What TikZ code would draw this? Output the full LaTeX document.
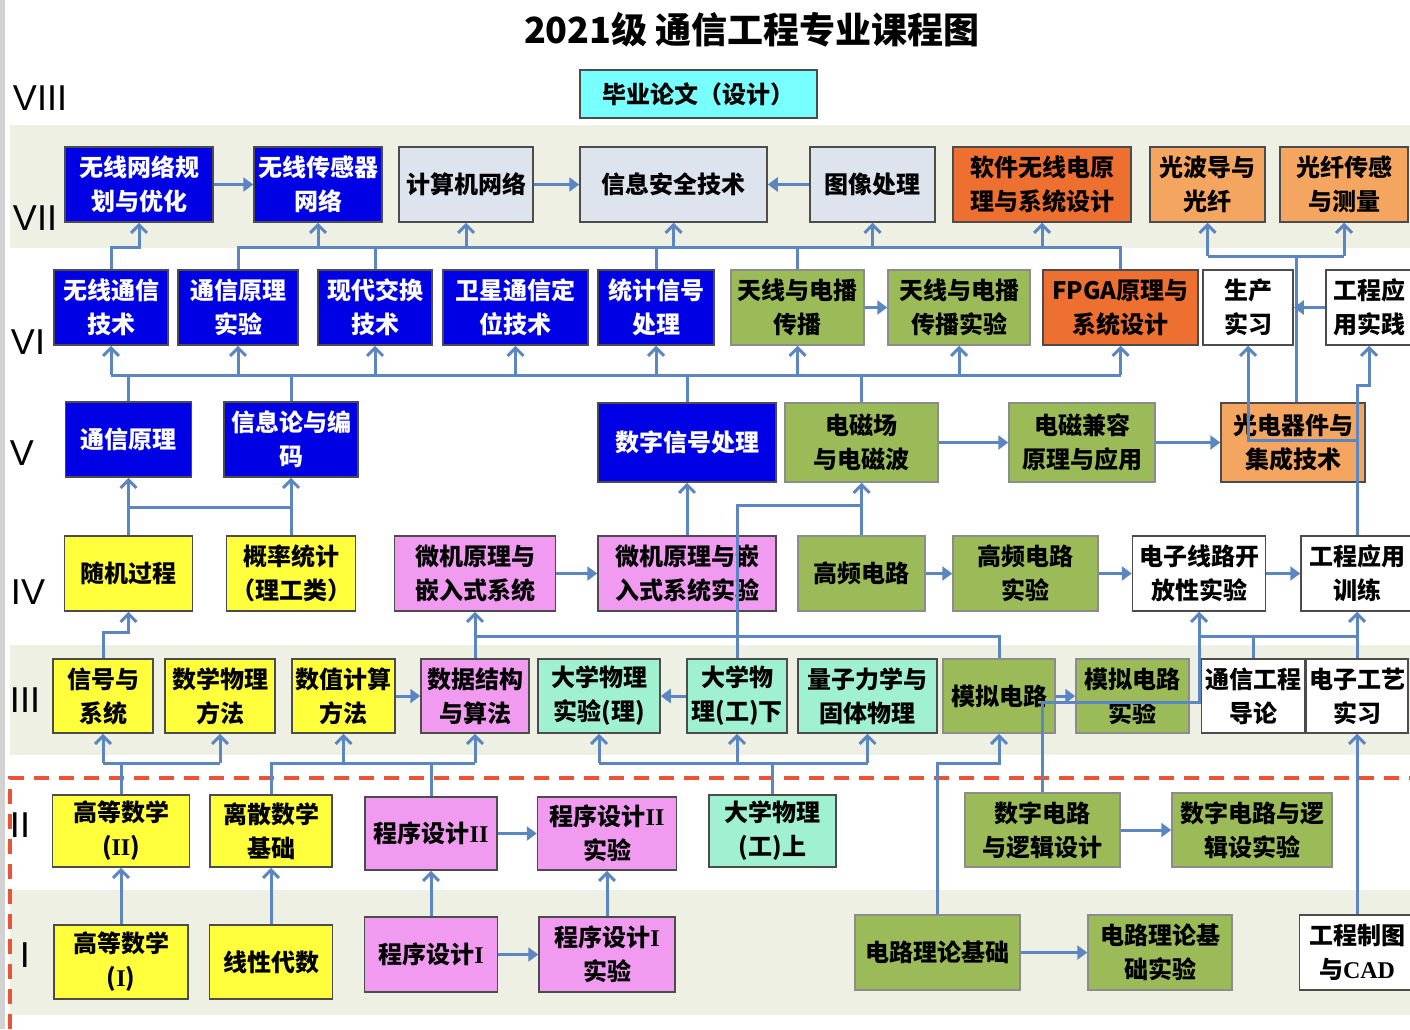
\documentclass[tikz,border=0pt]{standalone}
\usepackage{fontspec}
\setmainfont{Noto Sans CJK SC}
\newfontfamily\romfont{Liberation Sans}
\newfontfamily\tnr{Liberation Serif}
\usetikzlibrary{arrows.meta}

\definecolor{lnk}{RGB}{91,134,194}
\definecolor{band}{RGB}{238,240,228}
\definecolor{cBlue}{RGB}{0,0,228}
\definecolor{cGray}{RGB}{222,228,238}
\definecolor{cOrng}{RGB}{238,112,48}
\definecolor{cLOrng}{RGB}{244,165,96}
\definecolor{cOlive}{RGB}{155,187,89}
\definecolor{cYell}{RGB}{255,255,60}
\definecolor{cPink}{RGB}{240,155,240}
\definecolor{cAqua}{RGB}{160,240,210}
\definecolor{cCyan}{RGB}{120,255,255}
\definecolor{cRed}{RGB}{232,84,52}

\begin{document}
\begin{tikzpicture}[
    x=1pt, y=-1pt,
    box/.style={draw=black!70, line width=1.5pt, align=center, inner sep=0pt,
      minimum height=75pt, font=\bfseries\fontsize{24}{34}\selectfont},
    bxBlue/.style={box, fill=cBlue, text=white},
    bxGray/.style={box, fill=cGray},
    bxOrng/.style={box, fill=cOrng},
    bxLOrng/.style={box, fill=cLOrng},
    bxOlive/.style={box, fill=cOlive, draw=black!45},
    bxYell/.style={box, fill=cYell},
    bxPink/.style={box, fill=cPink},
    bxAqua/.style={box, fill=cAqua},
    bxWhite/.style={box, fill=white},
    bxCyan/.style={box, fill=cCyan},
    link/.style={draw=lnk, line width=3pt},
    uarr/.style={link, -{Straight Barb[length=8pt, width=16pt]}},
    harr/.style={link, -{Triangle[length=10pt, width=14pt]}},
    lvl/.style={font=\romfont\fontsize{36}{36}\selectfont}
  ]
    \useasboundingbox (0,0) rectangle (1410,1029);

    % background bands and frame
    \fill[band] (10,125) rectangle (1410,248);
    \fill[band] (10,645) rectangle (1410,755);
    \fill[band] (10,890) rectangle (1410,1015);
    \draw[gray!35, line width=5pt] (2.5,0) -- (2.5,1029);
    \draw[cRed, line width=3.5pt, dash pattern=on 15pt off 10pt] (10,1029) -- (10,778) -- (1410,778);

    \node[font=\bfseries\fontsize{36}{36}\selectfont] (title) at (752,30) {2021级 通信工程专业课程图};
    \foreach \r/\x/\y in {VIII/40/98, VII/35/218, VI/28/342, V/22/453, IV/28/592, III/25/700, II/20/825, I/25/955}
      \node[lvl] (lv\r) at (\x,\y) {\r};

    % semester VIII
    \node[bxCyan, minimum width=237, minimum height=48] (thesis) at (698.5,94) {毕业论文（设计）};

    % semester VII
    \node[bxBlue, minimum width=148] (wlplan) at (139,184.5) {无线网络规\\划与优化};
    \node[bxBlue, minimum width=128] (wsn) at (318,184.5) {无线传感器\\网络};
    \node[bxGray, minimum width=134] (cnet) at (466,184.5) {计算机网络};
    \node[bxGray, minimum width=187] (infosec) at (673.5,184.5) {信息安全技术};
    \node[bxGray, minimum width=125] (imgproc) at (872.5,184.5) {图像处理};
    \node[bxOrng, minimum width=178] (sdr) at (1042,184.5) {软件无线电原\\理与系统设计};
    \node[bxLOrng, minimum width=115] (optwg) at (1207.5,184.5) {光波导与\\光纤};
    \node[bxLOrng, minimum width=128] (fibsens) at (1344,184.5) {光纤传感\\与测量};

    % semester VI
    \node[bxBlue, minimum width=114] (wcomm) at (111,307.5) {无线通信\\技术};
    \node[bxBlue, minimum width=120] (commlab) at (238,307.5) {通信原理\\实验};
    \node[bxBlue, minimum width=114] (switch) at (375,307.5) {现代交换\\技术};
    \node[bxBlue, minimum width=145] (sat) at (515.5,307.5) {卫星通信定\\位技术};
    \node[bxBlue, minimum width=116] (ssp) at (656,307.5) {统计信号\\处理};
    \node[bxOlive, minimum width=133] (ant) at (797.5,307.5) {天线与电播\\传播};
    \node[bxOlive, minimum width=142] (antlab) at (959,307.5) {天线与电播\\传播实验};
    \node[bxOrng, minimum width=155] (fpga) at (1120.5,307.5) {FPGA原理与\\系统设计};
    \node[bxWhite, minimum width=90] (intern) at (1248,307.5) {生产\\实习};
    \node[bxWhite, minimum width=86] (engprac) at (1369,307.5) {工程应\\用实践};

    % semester V
    \node[bxBlue, minimum width=126] (commpr) at (128.5,439.5) {通信原理};
    \node[bxBlue, minimum width=134] (infoth) at (291,439.5) {信息论与编\\码};
    \node[bxBlue, minimum width=178, minimum height=79] (dsp) at (687,442.5) {数字信号处理};
    \node[bxOlive, minimum width=153, minimum height=79] (emf) at (861.5,442.5) {电磁场\\与电磁波};
    \node[bxOlive, minimum width=146, minimum height=79] (emc) at (1082,442.5) {电磁兼容\\原理与应用};
    \node[bxLOrng, minimum width=144, minimum height=79] (opto) at (1293,442.5) {光电器件与\\集成技术};

    % semester IV
    \node[bxYell, minimum width=128] (randp) at (128.5,573.5) {随机过程};
    \node[bxYell, minimum width=129] (prob) at (291,573.5) {概率统计\\（理工类）};
    \node[bxPink, minimum width=161] (micro) at (475,573.5) {微机原理与\\嵌入式系统};
    \node[bxPink, minimum width=178] (microlab) at (687,573.5) {微机原理与嵌\\入式系统实验};
    \node[bxOlive, minimum width=127] (hf) at (861.5,573.5) {高频电路};
    \node[bxOlive, minimum width=145] (hflab) at (1025.5,573.5) {高频电路\\实验};
    \node[bxWhite, minimum width=133] (ecopen) at (1199,573.5) {电子线路开\\放性实验};
    \node[bxWhite, minimum width=112] (engtrain) at (1357,573.5) {工程应用\\训练};

    % semester III
    \node[bxYell, minimum width=100, minimum height=74] (sigsys) at (103,696) {信号与\\系统};
    \node[bxYell, minimum width=110, minimum height=74] (mathphy) at (220,696) {数学物理\\方法};
    \node[bxYell, minimum width=103, minimum height=74] (numcomp) at (343.5,696) {数值计算\\方法};
    \node[bxPink, minimum width=108, minimum height=74] (dsa) at (475,696) {数据结构\\与算法};
    \node[bxAqua, minimum width=122, minimum height=74] (physlab) at (599,696) {大学物理\\实验(理)};
    \node[bxAqua, minimum width=100, minimum height=74] (phys2) at (737,696) {大学物\\理(工)下};
    \node[bxAqua, minimum width=139, minimum height=74] (quantum) at (867.5,696) {量子力学与\\固体物理};
    \node[bxOlive, minimum width=112, minimum height=74] (analog) at (999,696) {模拟电路};
    \node[bxOlive, minimum width=113, minimum height=74] (analoglab) at (1132.5,696) {模拟电路\\实验};
    \node[bxWhite, minimum width=103, minimum height=74] (intro) at (1253,696) {通信工程\\导论};
    \node[bxWhite, minimum width=102, minimum height=74] (etech) at (1357,696) {电子工艺\\实习};

    % semester II
    \node[bxYell, minimum width=137, minimum height=72] (math2) at (121,831) {高等数学\\({\tnr II})};
    \node[bxYell, minimum width=122, minimum height=72] (discrete) at (271,831) {离散数学\\基础};
    \node[bxPink, minimum width=132, minimum height=73] (prog2) at (431,833.5) {程序设计{\tnr II}};
    \node[bxPink, minimum width=139, minimum height=73] (prog2lab) at (607,833.5) {程序设计{\tnr II}\\实验};
    \node[bxAqua, minimum width=127, minimum height=72] (phys1) at (772.5,831) {大学物理\\(工)上};
    \node[bxOlive, minimum width=155, minimum height=74] (digital) at (1042.5,830) {数字电路\\与逻辑设计};
    \node[bxOlive, minimum width=160, minimum height=74] (digitallab) at (1252,830) {数字电路与逻\\辑设实验};

    % semester I
    \node[bxYell, minimum width=134, minimum height=74] (math1) at (121,962) {高等数学\\({\tnr I})};
    \node[bxYell, minimum width=123, minimum height=74] (linalg) at (271,962) {线性代数};
    \node[bxPink, minimum width=133] (prog1) at (431,954.5) {程序设计{\tnr I}};
    \node[bxPink, minimum width=136] (prog1lab) at (607,954.5) {程序设计{\tnr I}\\实验};
    \node[bxOlive, minimum width=165] (circuit) at (937.5,952.5) {电路理论基础};
    \node[bxOlive, minimum width=144] (circuitlab) at (1160,952.5) {电路理论基\\础实验};
    \node[bxWhite, minimum width=115] (cad) at (1357,952.5) {工程制图\\与{\tnr CAD}};

    % bus levels
    \coordinate (b7) at (0,247);
    \coordinate (b7r) at (0,256);
    \coordinate (b6) at (0,375);
    \coordinate (b5a) at (0,440);
    \coordinate (b5b) at (0,385);
    \coordinate (b5) at (0,507);
    \coordinate (b5c) at (0,505);
    \coordinate (b4) at (0,636);
    \coordinate (b3d) at (0,702);
    \coordinate (b3) at (0,763);

    % VI -> VII
    \draw[uarr] (wcomm.north) -- (wcomm.north |- b7) -| (wlplan.south);
    \draw[link] (commlab.north) |- (fpga.north |- b7) -- (fpga.north);
    \foreach \s in {switch,ssp,ant}
      \draw[link] (\s.north) -- (\s.north |- b7);
    \foreach \t in {wsn,cnet,infosec,imgproc,sdr}
      \draw[uarr] (\t.south |- b7) -- (\t.south);
    \draw[link] ([xshift=3pt]opto.north) -- ([xshift=3pt]opto.north |- b7r);
    \draw[link] (optwg.south |- b7r) -- (fibsens.south |- b7r);
    \foreach \t in {optwg,fibsens}
      \draw[uarr] (\t.south |- b7r) -- (\t.south);
    \draw[harr] (wlplan) -- (wsn);
    \draw[harr] (cnet) -- (infosec);
    \draw[harr] (imgproc) -- (infosec);

    % V -> VI
    \draw[link] (wcomm.south |- b6) -- (fpga.south |- b6);
    \foreach \s in {commpr,infoth,dsp,emf}
      \draw[link] (\s.north) -- (\s.north |- b6);
    \foreach \t in {wcomm,commlab,switch,sat,ssp,ant,antlab,fpga}
      \draw[uarr] (\t.south |- b6) -- (\t.south);
    \draw[uarr] (engtrain.north) -- (engtrain.north |- b5a) -| (intern.south);
    \draw[uarr] (engtrain.north |- b5a) |- (engprac.south |- b5b) -- (engprac.south);
    \draw[harr] (ant) -- (antlab);
    \draw[harr] (engprac) -- (intern);
    \draw[harr] (emf) -- (emc);
    \draw[harr] (emc) -- (opto);

    % IV -> V
    \draw[uarr] (randp.north) -- (commpr.south);
    \draw[uarr] (prob.north) -- (infoth.south);
    \draw[link] (randp.north |- b5) -- (prob.north |- b5);
    \draw[uarr] (microlab.north) -- (dsp.south);
    \draw[uarr] (hf.north) -- (emf.south);
    \draw[link] (phys2.north) -- (phys2.north |- b5c) -- (hf.north |- b5c);
    \draw[harr] (micro) -- (microlab);
    \draw[harr] (hf) -- (hflab);
    \draw[harr] (hflab) -- (ecopen);
    \draw[harr] (ecopen) -- (engtrain);

    % III -> IV
    \draw[uarr] (sigsys.north) -- ++(0,-26) -| (randp.south);
    \draw[uarr] (dsa.north) -- (micro.south);
    \draw[link] (analog.north) |- (dsa.north |- b4);
    \draw[link] (intro.north) -- (intro.north |- b4);
    \draw[link] (ecopen.south |- b4) -- (etech.north |- b4);
    \draw[uarr] (etech.north) -- (engtrain.south);
    \draw[uarr] (digital.north) -- (digital.north |- b3d) -| (ecopen.south);
    \draw[harr] (numcomp) -- (dsa);
    \draw[harr] (phys2) -- (physlab);
    \draw[harr] (analog) -- (analoglab);

    % II -> III
    \draw[link] (math2.north) -- (math2.north |- b3);
    \draw[link] (sigsys.south |- b3) -- (mathphy.south |- b3);
    \draw[link] (discrete.north) |- (dsa.south |- b3);
    \draw[link] (prog2.north) -- (prog2.north |- b3);
    \draw[link] (phys1.north) -- (phys1.north |- b3);
    \draw[link] (physlab.south |- b3) -- (quantum.south |- b3);
    \foreach \t in {sigsys,mathphy,numcomp,dsa,physlab,phys2,quantum}
      \draw[uarr] (\t.south |- b3) -- (\t.south);
    \draw[uarr] (circuit.north) |- (analog.south |- b3) -- (analog.south);
    \draw[uarr] (cad.north) -- (etech.south);

    % I -> II
    \draw[uarr] (math1.north) -- (math2.south);
    \draw[uarr] (linalg.north) -- (discrete.south);
    \draw[uarr] (prog1.north) -- (prog2.south);
    \draw[uarr] (prog1lab.north) -- (prog2lab.south);
    \draw[harr] (prog2) -- (prog2lab);
    \draw[harr] (prog1) -- (prog1lab);
    \draw[harr] (digital) -- (digitallab);
    \draw[harr] (circuit) -- (circuitlab);
\end{tikzpicture}
\end{document}
